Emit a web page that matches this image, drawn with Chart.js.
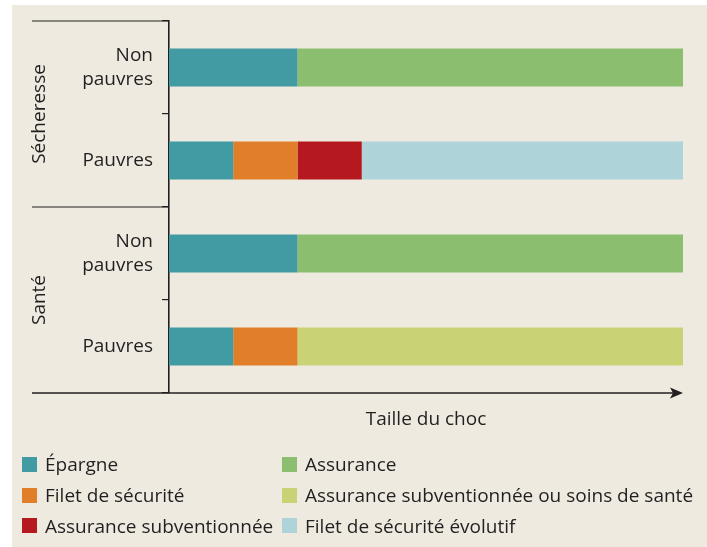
<!DOCTYPE html>
<html lang="fr">
<head>
<meta charset="utf-8">
<script src="https://cdn.jsdelivr.net/npm/chart.js@4/dist/chart.umd.min.js"></script>
<style>
  html, body { margin: 0; padding: 0; background: #ffffff; }
  body { width: 707px; height: 547px; position: relative; overflow: hidden; font-family: "Open Sans", sans-serif; }
  #panel { position: absolute; left: 12px; top: 5px; right: 0; bottom: 0; background: #eeeae0; }
  #wrap { position: absolute; left: 0; top: 0; width: 707px; height: 547px; }
  #legend { position: absolute; left: 22px; top: 449px; display: grid; grid-auto-flow: column;
            grid-template-rows: repeat(3, 30.7px); grid-template-columns: 260px auto; }
  .item { display: flex; align-items: center; font-size: 19px; color: #231f20; white-space: nowrap; }
  .swatch { width: 15px; height: 15px; margin-right: 8px; flex: none; }
</style>
</head>
<body>
<div id="panel"></div>
<div id="wrap"><canvas id="c" width="707" height="547"></canvas></div>
<div id="legend"></div>
<script>
// Categories (top to bottom) and their grouping by type of shock
const categories = [["Non", "pauvres"], "Pauvres", ["Non", "pauvres"], "Pauvres"];
const groupLabels = ["Sécheresse", "Santé"];
const groupSizes = [2, 2];
const axisTitle = "Taille du choc";

// Instrument shares along the shock size, in stacking order
const seriesNames = [
  "Épargne",
  "Filet de sécurité",
  "Assurance subventionnée",
  "Assurance",
  "Assurance subventionnée ou soins de santé",
  "Filet de sécurité évolutif"
];
const epargne        = [2, 1, 2, 1];
const filet          = [0, 1, 0, 1];
const assuranceSubv  = [0, 1, 0, 0];
const assurance      = [6, 0, 6, 0];
const assuranceSoins = [0, 0, 0, 6];
const filetEvolutif  = [0, 5, 0, 0];
const seriesColors = ["#429aa2", "#e07e29", "#b5191f", "#8bbf6f", "#c9d375", "#aed4da"];

const seriesValues = [epargne, filet, assuranceSubv, assurance, assuranceSoins, filetEvolutif];
const ink = "#231f20";
const fontFamily = "'Open Sans', sans-serif";
const fontSize = 19;

// Axis lines, arrow, group separators and group labels
const framePlugin = {
  id: "frame",
  afterDraw(chart) {
    const { ctx, chartArea: a } = chart;
    const y = chart.scales.y;
    const leftEdge = 32;
    ctx.save();
    ctx.strokeStyle = ink;
    ctx.fillStyle = ink;

    // horizontal axis with arrow
    ctx.lineWidth = 1.5;
    ctx.beginPath();
    ctx.moveTo(leftEdge, a.bottom);
    ctx.lineTo(a.right - 6, a.bottom);
    ctx.stroke();
    ctx.beginPath();
    ctx.moveTo(a.right, a.bottom);
    ctx.lineTo(a.right - 13, a.bottom - 5.5);
    ctx.lineTo(a.right - 10, a.bottom);
    ctx.lineTo(a.right - 13, a.bottom + 5.5);
    ctx.closePath();
    ctx.fill();

    // group separators and rotated group labels
    ctx.lineWidth = 1.2;
    let start = 0;
    groupLabels.forEach((label, g) => {
      const end = start + groupSizes[g] - 1;
      const top = (y.getPixelForValue(start) + y.getPixelForValue(start - 1)) / 2;
      const bottom = (y.getPixelForValue(end) + y.getPixelForValue(end + 1)) / 2;
      if (g === 0) {
        ctx.beginPath();
        ctx.moveTo(leftEdge, top);
        ctx.lineTo(a.left, top);
        ctx.stroke();
      }
      if (g < groupLabels.length - 1) {
        ctx.beginPath();
        ctx.moveTo(leftEdge, bottom);
        ctx.lineTo(a.left, bottom);
        ctx.stroke();
      }
      ctx.save();
      ctx.translate(40, (top + bottom) / 2);
      ctx.rotate(-Math.PI / 2);
      ctx.font = fontSize + "px " + fontFamily;
      ctx.textAlign = "center";
      ctx.textBaseline = "middle";
      ctx.fillText(label, 0, 0);
      ctx.restore();
      start = end + 1;
    });
    ctx.restore();
  }
};

const chart = new Chart(document.getElementById("c"), {
  type: "bar",
  data: {
    labels: categories,
    datasets: seriesNames.map((name, i) => ({
      label: name,
      data: seriesValues[i],
      backgroundColor: seriesColors[i],
      borderWidth: 0,
      barPercentage: 0.41,
      categoryPercentage: 1
    }))
  },
  options: {
    indexAxis: "y",
    responsive: false,
    animation: false,
    layout: { padding: { left: 0, top: 21, right: 24, bottom: 112 } },
    plugins: { legend: { display: false }, tooltip: { enabled: false } },
    scales: {
      x: {
        stacked: true,
        min: 0,
        max: 8,
        grid: { display: false },
        border: { display: false },
        ticks: { display: false },
        title: {
          display: true,
          text: axisTitle,
          color: ink,
          font: { family: fontFamily, size: fontSize },
          padding: { top: 4, bottom: 4 }
        },
        afterFit(scale) { scale.height = 42; }
      },
      y: {
        stacked: true,
        grid: {
          display: true,
          offset: true,
          drawOnChartArea: false,
          drawTicks: true,
          tickLength: 7,
          tickColor: ink,
          lineWidth: 1.2
        },
        border: { display: true, color: ink, width: 1.6 },
        ticks: {
          color: ink,
          padding: 9,
          font: { family: fontFamily, size: fontSize, lineHeight: 1.25 }
        },
        afterFit(scale) { scale.width = 169; }
      }
    }
  },
  plugins: [framePlugin]
});

// Two-column legend built from the chart's datasets
const legend = document.getElementById("legend");
chart.data.datasets.forEach(ds => {
  const item = document.createElement("div");
  item.className = "item";
  const sw = document.createElement("span");
  sw.className = "swatch";
  sw.style.background = ds.backgroundColor;
  const txt = document.createElement("span");
  txt.textContent = ds.label;
  item.appendChild(sw);
  item.appendChild(txt);
  legend.appendChild(item);
});
</script>
</body>
</html>
